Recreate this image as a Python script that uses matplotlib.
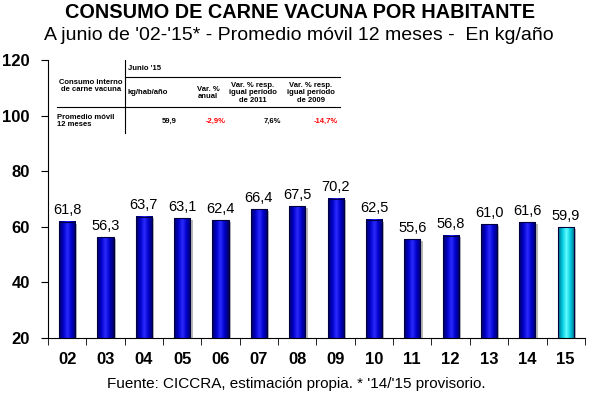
import numpy as np
import matplotlib
matplotlib.use('Agg')
import matplotlib.pyplot as plt
from matplotlib.colors import LinearSegmentedColormap

plt.rcParams['font.family'] = ['Liberation Sans', 'DejaVu Sans']

years = ['02', '03', '04', '05', '06', '07', '08', '09', '10', '11', '12', '13', '14', '15']
consumo = [61.8, 56.3, 63.7, 63.1, 62.4, 66.4, 67.5, 70.2, 62.5, 55.6, 56.8, 61.0, 61.6, 59.9]

tabla_cols = ['kg/hab/año', 'Var. %\nanual', 'Var. % resp.\nigual período\nde 2011', 'Var. % resp.\nigual período\nde 2009']
tabla_vals = ['59,9', '-2,9%', '7,6%', '-14,7%']

fig = plt.figure(figsize=(5.92, 3.96), dpi=100)
ax = fig.add_axes([0.081, 0.1465, 0.907, 0.7015])

x = np.arange(len(years))
w = 0.42
blue = LinearSegmentedColormap.from_list('b', ['#000060', '#0000c8', '#2a2aff', '#0000c8', '#000060'])
cyan = LinearSegmentedColormap.from_list('c', ['#006a80', '#00c8e0', '#60ffff', '#00c8e0', '#006a80'])
grad = np.linspace(0, 1, 64).reshape(1, -1)

bars = ax.bar(x, consumo, width=w, bottom=0, color='none', edgecolor='#000040', linewidth=0.8, zorder=3)
for i, b in enumerate(bars):
    x0, w0, h0 = b.get_x(), b.get_width(), b.get_height()
    # sombra
    ax.bar(x0 + w0 / 2 + 0.06, h0 - 0.6, width=w0, color='#b8b8b8', zorder=1)
    cm = cyan if i == len(bars) - 1 else blue
    ax.imshow(grad, cmap=cm, aspect='auto', extent=[x0, x0 + w0, 20, h0], zorder=2)
    ax.text(x[i], consumo[i] + 1.6, f'{consumo[i]:.1f}'.replace('.', ','),
            ha='center', va='bottom', fontsize=10.5)

ax.set_xlim(-0.5, len(years) - 0.5)
ax.set_ylim(20, 120)
ax.set_yticks([20, 40, 60, 80, 100, 120])
ax.set_xticks(x)
ax.set_xticklabels(years, fontsize=12, fontweight='bold')
ax.set_yticklabels([20, 40, 60, 80, 100, 120], fontsize=12, fontweight='bold')
ax.set_xticks(np.arange(-0.5, len(years)), minor=True)
ax.tick_params(axis='x', which='major', length=0, pad=10)
ax.tick_params(axis='x', which='minor', length=5, direction='out')
ax.tick_params(axis='y', length=5, direction='out', pad=8)
for s in ['top', 'right']:
    ax.spines[s].set_visible(False)

fig.text(0.507, 0.968, 'CONSUMO DE CARNE VACUNA POR HABITANTE', ha='center', va='center',
         fontsize=14.3, fontweight='bold')
fig.text(0.505, 0.91, "A junio de '02-'15* - Promedio móvil 12 meses -  En kg/año", ha='center',
         va='center', fontsize=14)
fig.text(0.5, 0.03, "Fuente: CICCRA, estimación propia. * '14/'15 provisorio.", ha='center',
         va='center', fontsize=11)

# tabla
W, H = 592, 396
def fx(px):
    return px / W
def fy(py):
    return 1 - py / H

fs = 5.5
fig.add_artist(plt.Line2D([fx(125), fx(125)], [fy(60), fy(133)], color='k', lw=0.8))
fig.add_artist(plt.Line2D([fx(125), fx(340)], [fy(77), fy(77)], color='k', lw=0.8))
fig.add_artist(plt.Line2D([fx(57), fx(340)], [fy(107), fy(107)], color='k', lw=0.8))
fig.text(fx(91), fy(86), 'Consumo interno\nde carne vacuna', ha='center', va='center', fontsize=fs,
         fontweight='bold', linespacing=1.1)
fig.text(fx(128), fy(68), "Junio '15", ha='left', va='center', fontsize=fs, fontweight='bold')
col_x = [148, 208, 253, 311]
for cx, c in zip(col_x, tabla_cols):
    fig.text(fx(cx), fy(93), c, ha='center', va='center', fontsize=fs, fontweight='bold', linespacing=1.1)
fig.text(fx(57), fy(121), 'Promedio móvil\n12 meses', ha='left', va='center', fontsize=fs,
         fontweight='bold', linespacing=1.1)
val_x = [177, 226, 281, 338]
for vx, v in zip(val_x, tabla_vals):
    col = 'red' if v.startswith('-') else 'black'
    fig.text(fx(vx), fy(121), v, ha='right', va='center', fontsize=fs, fontweight='bold', color=col)

fig.savefig('out.png', dpi=100)
